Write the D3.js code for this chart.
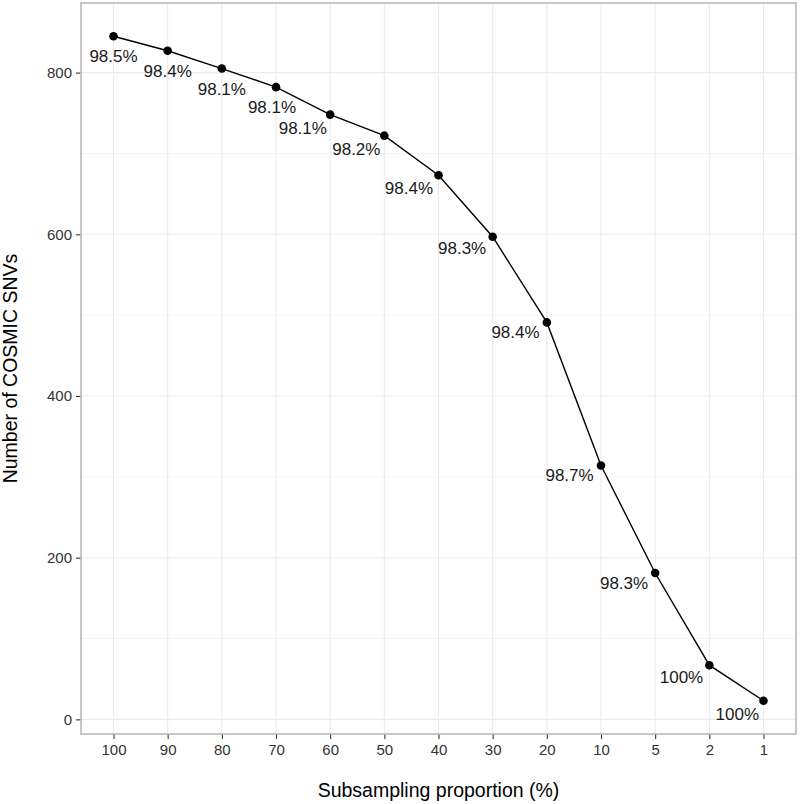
<!DOCTYPE html>
<html>
<head>
<meta charset="utf-8">
<script src="https://cdn.jsdelivr.net/npm/d3@7"></script>
<style>
  body { margin: 0; background: #fff; }
  svg { font-family: "Liberation Sans", Arial, sans-serif; }
  .tick-label { fill: #333; font-size: 15px; }
  .axis-title { fill: #000; font-size: 19.5px; }
  .point-label { fill: #1a1a1a; font-size: 17px; }
</style>
</head>
<body>
<svg></svg>
<script>
// data
var proportions = ["100", "90", "80", "70", "60", "50", "40", "30", "20", "10", "5", "2", "1"];
var snvCounts = [845, 827, 805, 782, 748, 722, 673, 597, 491, 314, 181, 67, 23];
var precision = ["98.5%", "98.4%", "98.1%", "98.1%", "98.1%", "98.2%", "98.4%", "98.3%", "98.4%", "98.7%", "98.3%", "100%", "100%"];
var yTicks = [0, 200, 400, 600, 800];
var yMinor = [100, 300, 500, 700];

var svgWidth = 800, svgHeight = 804;
var panel = { left: 81, right: 796, top: 3, bottom: 734 };

var svg = d3.select("svg")
  .attr("width", svgWidth)
  .attr("height", svgHeight);

var data = proportions.map(function(p, i) {
  return { prop: p, n: snvCounts[i], label: precision[i] };
});

//scales (ggplot style expansion)
var x = d3.scalePoint()
  .domain(proportions)
  .range([panel.left, panel.right])
  .padding(0.6);

var ext = d3.extent(snvCounts);
var pad = (ext[1] - ext[0]) * 0.05;
var y = d3.scaleLinear()
  .domain([ext[0] - pad, ext[1] + pad])
  .range([panel.bottom, panel.top]);

//grid lines
var grid = svg.append("g");
grid.selectAll(".minor")
  .data(yMinor)
  .enter().append("line")
  .attr("x1", panel.left).attr("x2", panel.right)
  .attr("y1", function(d) { return y(d); })
  .attr("y2", function(d) { return y(d); })
  .attr("stroke", "#f5f5f5")
  .attr("stroke-width", 1);
grid.selectAll(".major")
  .data(yTicks)
  .enter().append("line")
  .attr("x1", panel.left).attr("x2", panel.right)
  .attr("y1", function(d) { return y(d); })
  .attr("y2", function(d) { return y(d); })
  .attr("stroke", "#ebebeb")
  .attr("stroke-width", 1.1);
grid.selectAll(".vert")
  .data(proportions)
  .enter().append("line")
  .attr("x1", function(d) { return x(d); })
  .attr("x2", function(d) { return x(d); })
  .attr("y1", panel.top).attr("y2", panel.bottom)
  .attr("stroke", "#ebebeb")
  .attr("stroke-width", 1.1);

//axes
var xAxis = svg.append("g")
  .attr("transform", "translate(0," + panel.bottom + ")")
  .call(d3.axisBottom(x).tickSize(5).tickPadding(5));
var yAxis = svg.append("g")
  .attr("transform", "translate(" + panel.left + ",0)")
  .call(d3.axisLeft(y).tickValues(yTicks).tickSize(5).tickPadding(4));

[xAxis, yAxis].forEach(function(a) {
  a.select(".domain").remove();
  a.selectAll(".tick line").attr("stroke", "#333").attr("stroke-width", 1.1);
  a.selectAll(".tick text")
    .attr("class", "tick-label")
    .attr("font-size", null)
    .attr("font-family", null)
    .attr("fill", null);
});

//line + points
var line = d3.line()
  .x(function(d) { return x(d.prop); })
  .y(function(d) { return y(d.n); });

svg.append("path")
  .datum(data)
  .attr("d", line)
  .attr("fill", "none")
  .attr("stroke", "#000")
  .attr("stroke-width", 1.4);

svg.selectAll(".pt")
  .data(data)
  .enter().append("circle")
  .attr("cx", function(d) { return x(d.prop); })
  .attr("cy", function(d) { return y(d.n); })
  .attr("r", 4.3)
  .attr("fill", "#000");

//label placement: below the point where the curve is flat,
//else pushed off the curve to the lower left
var pts = data.map(function(d) { return [x(d.prop), y(d.n)]; });
var segs = d3.pairs(pts);
var last = pts.length - 1;
var placed = [];
var glyphH = 13, boxH = 18;

function hitsLine(cx, cy, w, margin) {
  return segs.some(function(s) {
    for (var t = 0; t <= 1; t += 0.01) {
      var px = s[0][0] + (s[1][0] - s[0][0]) * t;
      var py = s[0][1] + (s[1][1] - s[0][1]) * t;
      if (Math.abs(px - cx) < w / 2 + margin && Math.abs(py - cy) < glyphH / 2 + margin) return true;
    }
    return false;
  });
}

function hitsLabels(cx, cy, w) {
  return placed.some(function(b) {
    return Math.abs(cx - b.cx) < (w + b.w) / 2 + 1 && Math.abs(cy - b.cy) < boxH + 1;
  });
}

function segSlope(a, b) {
  return (pts[b][1] - pts[a][1]) / (pts[b][0] - pts[a][0]);
}

function slopeAt(i) {
  var s = [];
  if (i > 0) s.push(segSlope(i - 1, i));
  if (i < last) s.push(segSlope(i, i + 1));
  return d3.mean(s);
}

var labels = svg.selectAll(".point-label")
  .data(data)
  .enter().append("text")
  .attr("class", "point-label")
  .attr("text-anchor", "middle")
  .attr("dy", "0.35em")
  .text(function(d) { return d.label; });

// right to left, so the steep part of the curve is settled first
labels.nodes().slice().reverse().forEach(function(node) {
  var i = proportions.indexOf(d3.select(node).datum().prop);
  var w = node.getComputedTextLength();
  var px = pts[i][0], py = pts[i][1];
  var ahead = i < last ? segSlope(i, i + 1) : segSlope(i - 1, i);
  var cx = null, cy = py + 20;
  if (ahead < 0.6) {
    for (var sh = 0; sh <= 8; sh += 1) {
      if (!hitsLine(px - sh, cy, w, 2) && !hitsLabels(px - sh, cy, w)) { cx = px - sh; break; }
    }
  }
  if (cx === null) {
    var s = slopeAt(i);
    var len = Math.sqrt(1 + s * s);
    for (var gap = 8; gap < 40; gap += 2) {
      cx = px - s / len * gap - w / 2;
      cy = py + 1 / len * gap + glyphH / 2;
      if (!hitsLabels(cx, cy, w)) break;
    }
  }
  placed.push({ cx: cx, cy: cy, w: w });
  d3.select(node).attr("x", cx).attr("y", cy);
});

//panel border
svg.append("rect")
  .attr("x", panel.left)
  .attr("y", panel.top)
  .attr("width", panel.right - panel.left)
  .attr("height", panel.bottom - panel.top)
  .attr("fill", "none")
  .attr("stroke", "#b5b5b5")
  .attr("stroke-width", 1.5);

//axis titles
svg.append("text")
  .attr("class", "axis-title")
  .attr("text-anchor", "middle")
  .attr("x", (panel.left + panel.right) / 2)
  .attr("y", 797)
  .text("Subsampling proportion (%)");

svg.append("text")
  .attr("class", "axis-title")
  .attr("text-anchor", "middle")
  .attr("transform", "translate(17," + (panel.top + panel.bottom) / 2 + ") rotate(-90)")
  .text("Number of COSMIC SNVs");
</script>
</body>
</html>
